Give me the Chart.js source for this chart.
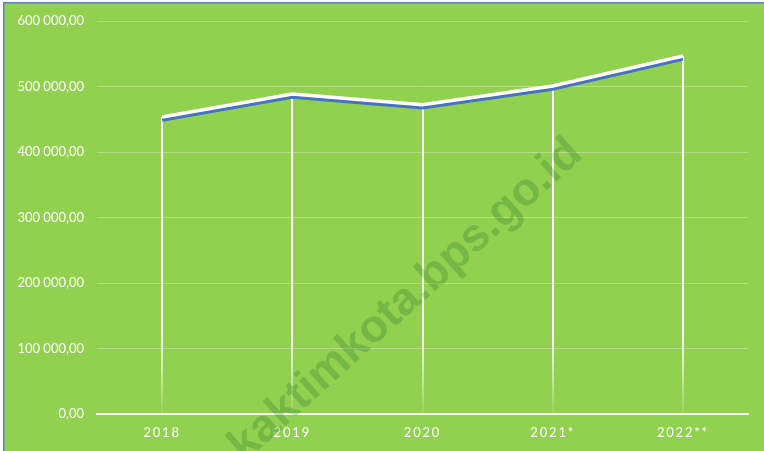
<!DOCTYPE html>
<html><head><meta charset="utf-8">
<script src="https://cdn.jsdelivr.net/npm/chart.js@4/dist/chart.umd.min.js"></script>
<style>html,body{margin:0;padding:0;background:#fff;}#wrap{position:absolute;left:0;top:0;width:764px;height:451px;}</style>
</head><body><div id="wrap"><canvas id="c" width="764" height="451"></canvas></div>
<script>
const categories = ['2018', '2019', '2020', '2021*', '2022**'];
const values = [453400, 488500, 472200, 500800, 546600];
const yTickValues = [0, 100000, 200000, 300000, 400000, 500000, 600000];
const yTickLabels = ['0,00', '100 000,00', '200 000,00', '300 000,00', '400 000,00', '500 000,00', '600 000,00'];
const watermarkText = 'kaktimkota.bps.go.id';

const GREEN = '#92D050';
const BLUE = '#4472C4';

const bgPlugin = {
  id: 'bg',
  beforeDraw(chart) {
    const ctx = chart.ctx, w = chart.width, h = chart.height;
    ctx.save();
    ctx.fillStyle = '#ffffff';
    ctx.fillRect(0, 0, w, h);
    ctx.fillStyle = GREEN;
    ctx.fillRect(3, 2, w - 3, h - 2);
    ctx.fillStyle = '#5a7fc8';
    ctx.fillRect(3, 2, w - 3, 1.5);
    ctx.fillRect(3, 2, 1.5, h - 2);
    ctx.restore();
  }
};

const letterSpacingPlugin = {
  id: 'lsp',
  afterLayout(chart) {
    const s = chart.scales.x;
    if (s && !s._lsPatched) {
      const orig = s.drawLabels;
      s.drawLabels = function (area) {
        const ctx = this.ctx;
        ctx.save();
        try { ctx.letterSpacing = '1.8px'; } catch (e) {}
        orig.call(this, area);
        ctx.restore();
      };
      s._lsPatched = true;
    }
  }
};

const dropLinePlugin = {
  id: 'drop',
  beforeDatasetsDraw(chart) {
    const ctx = chart.ctx;
    const meta = chart.getDatasetMeta(0);
    const bottom = chart.scales.y.getPixelForValue(0);
    ctx.save();
    meta.data.forEach(pt => {
      const len = bottom - pt.y;
      const g = ctx.createLinearGradient(0, pt.y, 0, bottom);
      const fs = Math.max(0, (len - 80) / len);
      g.addColorStop(0, 'rgba(255,255,255,1)');
      g.addColorStop(fs, 'rgba(255,255,255,1)');
      g.addColorStop(1, 'rgba(255,255,255,0.05)');
      ctx.strokeStyle = g;
      ctx.lineWidth = 2;
      ctx.beginPath();
      ctx.moveTo(Math.round(pt.x), pt.y);
      ctx.lineTo(Math.round(pt.x), bottom);
      ctx.stroke();
    });
    ctx.restore();
  }
};

const shadowPlugin = {
  id: 'lineShadow',
  beforeDatasetDraw(chart, args) {
    const ctx = chart.ctx;
    ctx.save();
    ctx.shadowColor = BLUE;
    ctx.shadowOffsetX = 0;
    ctx.shadowOffsetY = 3;
    ctx.shadowBlur = 0;
  },
  afterDatasetDraw(chart) {
    chart.ctx.restore();
  }
};

const watermarkPlugin = {
  id: 'wm',
  afterDraw(chart) {
    const ctx = chart.ctx;
    ctx.save();
    ctx.translate(406, 300);
    ctx.rotate(-42 * Math.PI / 180);
    ctx.font = 'bold 46px "Liberation Sans", Arial, sans-serif';
    ctx.textAlign = 'center';
    ctx.textBaseline = 'middle';
    ctx.fillStyle = 'rgba(40,120,40,0.27)';
    ctx.fillText(watermarkText, 0, 0);
    ctx.restore();
  }
};

new Chart(document.getElementById('c'), {
  type: 'line',
  data: {
    labels: categories,
    datasets: [{
      data: values,
      borderColor: '#ffffff',
      borderWidth: 3.5,
      pointRadius: 0,
      tension: 0,
      fill: false
    }]
  },
  options: {
    responsive: false,
    animation: false,
    devicePixelRatio: 1,
    layout: { padding: { left: 0, right: 16, top: 21, bottom: 0 } },
    plugins: { legend: { display: false }, tooltip: { enabled: false } },
    scales: {
      x: {
        offset: true,
        grid: { display: false, drawTicks: false },
        border: { display: true, color: '#ffffff', width: 2 },
        ticks: { color: '#ffffff', font: { family: 'Lato', size: 13 }, padding: 11, maxRotation: 0 },
        afterFit(s) { s.height = 37; }
      },
      y: {
        min: 0,
        max: 600000,
        grid: { color: 'rgba(255,255,255,0.3)', lineWidth: 1, drawTicks: false },
        border: { display: false },
        ticks: {
          color: '#ffffff',
          font: { family: 'Lato', size: 13 },
          padding: 13,
          callback: (v, i) => yTickLabels[i]
        },
        afterBuildTicks(s) { s.ticks = yTickValues.map(v => ({ value: v })); },
        afterFit(s) { s.width = 97; }
      }
    }
  },
  plugins: [bgPlugin, letterSpacingPlugin, dropLinePlugin, shadowPlugin, watermarkPlugin]
});
</script>
</body></html>
